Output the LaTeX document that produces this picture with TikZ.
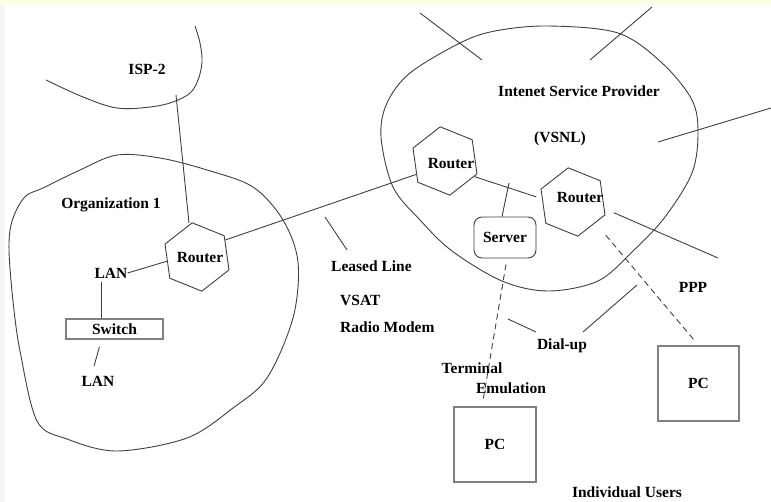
\documentclass[tikz,border=0pt]{standalone}
\usepackage{fontspec}
\setmainfont{Liberation Serif}
\usetikzlibrary{shapes.geometric,calc}

\definecolor{creamband}{HTML}{FEFDE6}
\definecolor{sideband}{HTML}{F4F6F0}

\begin{document}
\begin{tikzpicture}[x=1pt,y=-1pt,
  wire/.style={draw=black!75, line width=0.9pt},
  dashwire/.style={wire, dash pattern=on 6pt off 4pt},
  blob/.style={draw=black!75, line width=0.9pt},
  lbl/.style={font=\fontsize{15.5}{18}\selectfont\bfseries, inner sep=0pt, text=black},
  router/.style={regular polygon, regular polygon sides=6, shape border rotate=38,
    minimum size=69pt, inner sep=0pt, draw=black!75, line width=0.9pt},
  rlabel/.style={lbl},
  greybox/.style={draw=black!50, line width=1.3pt, inner sep=0pt, lbl},
  srvbox/.style={draw=black!75, line width=0.9pt, rounded corners=8pt, inner sep=0pt, lbl}
]
% page background with the thin coloured bands along the top and left edges
\fill[white] (0,0) rectangle (771,502);
\fill[creamband] (0,0) rectangle (771,5);
\fill[sideband] (0,5) rectangle (5,502);
\useasboundingbox (0,0) rectangle (771,502);

% ---- clouds ----
% ISP-2 (open arc)
\draw[blob] plot[smooth, tension=0.6] coordinates {(195,26) (200,43) (202,62) (198,80) (190,93)
  (173,102) (150,107) (117,108) (83,97) (46,80)};
% Organization 1
\draw[blob] plot[smooth cycle, tension=0.55] coordinates {(117,155) (160,158) (207,170) (253,187)
  (283,220) (298,262) (293,318) (267,378) (233,408) (187,438) (117,451) (67,439) (37,421)
  (20,351) (13,301) (9,251) (11,225) (18,207) (27,195) (43,188) (80,170)};
% Internet service provider
\draw[blob] plot[smooth cycle, tension=0.55] coordinates {(548,26) (618,33) (662,63) (692,100)
  (698,133) (692,173) (665,217) (633,251) (598,281) (548,291) (502,281) (452,251) (420,220)
  (393,187) (381,137) (387,103) (410,73) (460,43) (495,31)};

% ---- nodes ----
\node[router, label={[rlabel, xshift=3pt, yshift=-1pt]center:Router}] (r1) at (197,257) {};
\node[router, label={[rlabel, xshift=6pt, yshift=-3pt]center:Router}] (ra) at (445,161) {};
\node[router, label={[rlabel, xshift=7pt, yshift=4pt]center:Router}] (rb) at (573,202) {};

\node[lbl] (isp2) at (147,69) {ISP-2};
\node[lbl] (org) at (111,205) {Organization 1};
\node[lbl] (lan1) at (111,273) {LAN};
\node[greybox, minimum width=97pt, minimum height=20pt] (sw) at (114.5,329) {Switch};
\node[lbl] (lan2) at (98,381) {LAN};

\node[lbl, anchor=west] (leased) at (331,266) {Leased Line};
\node[lbl, anchor=west] (vsat) at (340,300) {VSAT};
\node[lbl, anchor=west] (radio) at (340,327) {Radio Modem};

\node[lbl] (ispname) at (579,91) {Intenet Service Provider};
\node[lbl] (vsnl) at (560,139) {(VSNL)};
\node[srvbox, minimum width=62pt, minimum height=41pt] (srv) at (505,237.5) {Server};

\node[greybox, minimum width=82pt, minimum height=75pt] (pc1) at (495,444.5) {PC};
\node[greybox, minimum width=81pt, minimum height=75pt] (pc2) at (698.5,383.5) {PC};

\node[lbl] (dial) at (562,346) {Dial-up};
\node[lbl] (ppp) at (693,287) {PPP};
\node[lbl] (term) at (472,368) {Terminal};
\node[lbl] (emul) at (511,388) {Emulation};
\node[lbl] (users) at (627,492.5) {Individual Users};

% ---- free line ends ----
\coordinate (isp2foot) at (176,95);
\coordinate (r1top) at (189,223);
\coordinate (leasedA) at (325,217);
\coordinate (leasedB) at (347,250);
\coordinate (srvfeed) at (509,183);
\coordinate (rbout) at (718,258);
\coordinate (dialA) at (508,319);
\coordinate (dialB) at (536,332);
\coordinate (dialC) at (583,332);
\coordinate (dialD) at (637,285);
\coordinate (spokeAa) at (420,13);
\coordinate (spokeAb) at (482,60);
\coordinate (spokeBa) at (652,7);
\coordinate (spokeBb) at (590,60);
\coordinate (spokeCa) at (771,108);
\coordinate (spokeCb) at (658,142);

% ---- connectors ----
\draw[wire] (isp2foot) -- (r1top);
\draw[wire] (lan1.east) -- (r1.188);
\draw[wire, shorten <=4pt] ([xshift=-10pt]lan1.south) -- ([xshift=-10pt]lan1.south |- sw.north);
\draw[wire] ([xshift=-15pt, yshift=-7pt]sw.south) -- ([xshift=-4pt, yshift=9.5pt]lan2.north);
\draw[wire] (r1.31) -- (ra.205);
\draw[wire] (leasedA) -- (leasedB);
\draw[wire, shorten >=6pt] (ra.332) -- (rb.174);
\draw[wire] (srvfeed) -- ([xshift=-3pt]srv.north);
\draw[wire, shorten <=10pt] (rb.-12) -- (rbout);
\draw[dashwire, shorten <=6pt, shorten >=8pt] ([xshift=2pt]srv.south) -- ([xshift=-13pt]pc1.north);
\draw[dashwire, shorten <=16pt, shorten >=7pt] (rb.-43) -- (pc2.north);
\draw[wire] (dialA) -- (dialB);
\draw[wire] (dialC) -- (dialD);
\draw[wire] (spokeAa) -- (spokeAb);
\draw[wire] (spokeBa) -- (spokeBb);
\draw[wire] (spokeCa) -- (spokeCb);
\end{tikzpicture}
\end{document}
